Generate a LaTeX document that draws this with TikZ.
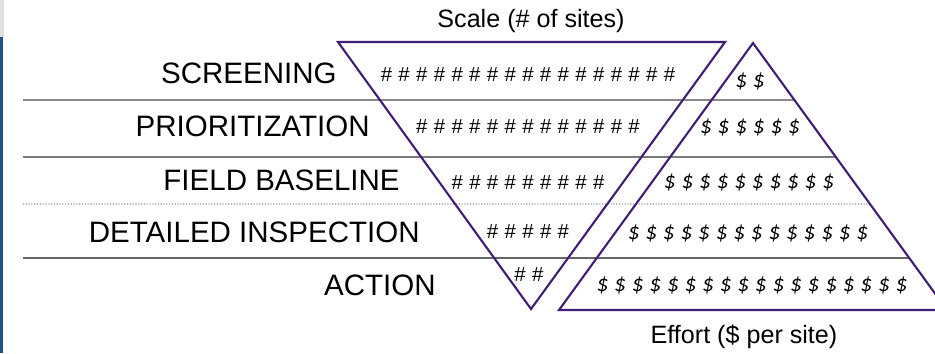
\documentclass[tikz,border=0pt]{standalone}
\usepackage{fontspec}
\setmainfont{Liberation Sans}
\newfontfamily\dolfont{Carlito}
\usetikzlibrary{calc}
\definecolor{purp}{HTML}{3E1E78}
\definecolor{bar}{HTML}{1F4F8C}
\definecolor{sepg}{HTML}{4A4A4A}
\tikzset{
  stage/.style={anchor=east,inner sep=0pt,font={\fontsize{16.8pt}{18pt}\selectfont}},
  axlab/.style={inner sep=0pt,font={\fontsize{14.3pt}{16pt}\selectfont}},
  hashrow/.style={inner sep=0pt,font={\fontsize{11.6pt}{13pt}\selectfont\spaceskip=3.62pt\relax}},
  dolrow/.style={inner sep=0pt,font={\dolfont\itshape\fontsize{13.2pt}{15pt}\selectfont\spaceskip=3.32pt\relax}},
  tri/.style={draw=purp,line width=1.2pt,line join=miter},
  sep/.style={sepg,line width=0.6pt},
}

\begin{document}
\begin{tikzpicture}[x=0.02cm,y=-0.02cm]
  \useasboundingbox (0,0) rectangle (935,353);
  \clip (0,0) rectangle (935,353);
  % screen edge
  \fill[black!12] (0,0) rectangle (4,37);
  \fill[bar] (0,37) rectangle (2.5,353);
  % the two triangles
  \coordinate (sTL) at (338,42);
  \coordinate (sTR) at (725,42);
  \coordinate (sB) at (531,309);
  \coordinate (eT) at (753,43);
  \coordinate (eL) at (559,310);
  \coordinate (eR) at (947,310);
  % row separators
  \draw[sep] (23,100) -- ($(eT)!{57/267}!(eR)$);
  \draw[sep,black!80] (23,157) -- ($(eT)!{114/267}!(eR)$);
  \draw[sep,black!45,densely dotted] (23,204) -- ($(eT)!{161/267}!(eR)$);
  \draw[sep,line width=0.9pt,black!60] (23,258) -- ($(eT)!{215/267}!(eR)$);
  \draw[tri] (sTL) -- (sTR) -- (sB) -- cycle;
  \draw[tri] (eT) -- (eR) -- (eL) -- cycle;
  % stages
  \node[stage] (scr) at (337,73) {SCREENING};
  \node[stage] (pri) at (370,126) {PRIORITIZATION};
  \node[stage] (fld) at (400,180) {FIELD BASELINE};
  \node[stage] (det) at (420,232) {DETAILED INSPECTION};
  \node[stage] (act) at (436,285) {ACTION};
  % number of sites
  \node[hashrow] (h1) at (528,75) {\# \# \# \# \# \# \# \# \# \# \# \# \# \# \# \# \#};
  \node[hashrow] (h2) at (528,127) {\# \# \# \# \# \# \# \# \# \# \# \# \#};
  \node[hashrow] (h3) at (528,183) {\# \# \# \# \# \# \# \# \#};
  \node[hashrow] (h4) at (528,232) {\# \# \# \# \#};
  \node[hashrow] (h5) at (529,275) {\# \#};
  % effort per site
  \node[dolrow] (d1) at (750,81) {\$ \$};
  \node[dolrow] (d2) at (750,127) {\$ \$ \$ \$ \$ \$};
  \node[dolrow] (d3) at (749,182) {\$ \$ \$ \$ \$ \$ \$ \$ \$ \$};
  \node[dolrow] (d4) at (748,233) {\$ \$ \$ \$ \$ \$ \$ \$ \$ \$ \$ \$ \$ \$};
  \node[dolrow] (d5) at (752,285) {\$ \$ \$ \$ \$ \$ \$ \$ \$ \$ \$ \$ \$ \$ \$ \$ \$ \$};
  % axis captions
  \node[axlab] (scale) at (531,21) {Scale (\# of sites)};
  \node[axlab] (effort) at (744,337) {Effort (\$ per site)};
\end{tikzpicture}
\end{document}
